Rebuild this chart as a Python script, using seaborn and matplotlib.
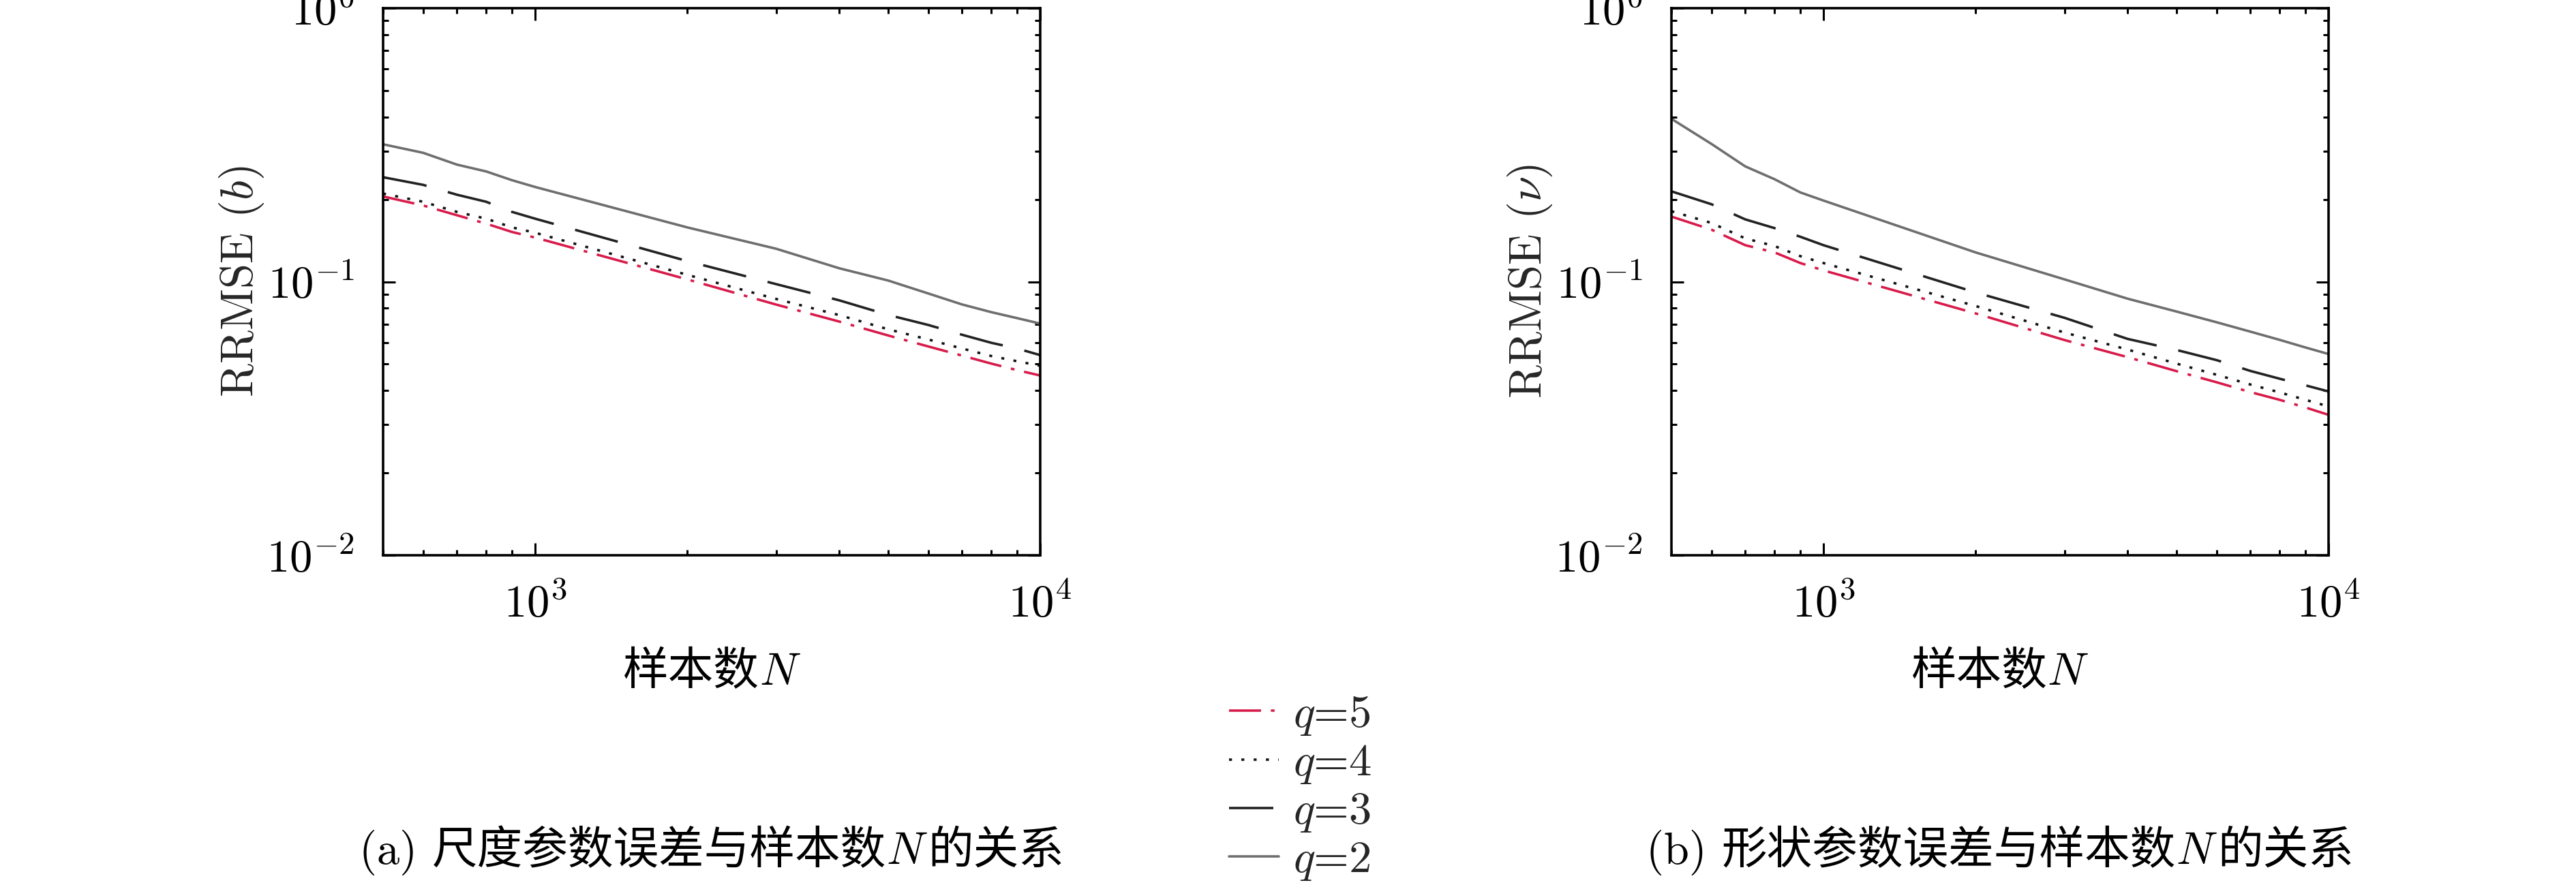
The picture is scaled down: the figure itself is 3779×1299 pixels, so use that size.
import matplotlib
matplotlib.use("Agg")
import matplotlib.pyplot as plt
import seaborn as sns
from matplotlib.ticker import LogLocator, NullFormatter
from matplotlib.offsetbox import TextArea, HPacker, AnchoredOffsetbox

# sample sizes
N = [500, 600, 700, 800, 900, 1000, 2000, 3000, 4000, 5000, 6000, 7000, 8000, 9000, 10000]

# (a) scale parameter b
b_q2 = [0.318, 0.296, 0.268, 0.253, 0.235, 0.222, 0.158, 0.132, 0.112, 0.101, 0.0906, 0.0826, 0.0774, 0.0736, 0.0703]
b_q3 = [0.241, 0.226, 0.208, 0.196, 0.180, 0.170, 0.119, 0.098, 0.0855, 0.0756, 0.0695, 0.0640, 0.0598, 0.0570, 0.0539]
b_q4 = [0.210, 0.196, 0.180, 0.170, 0.158, 0.151, 0.106, 0.0865, 0.0755, 0.0670, 0.0615, 0.0570, 0.0535, 0.0512, 0.0493]
b_q5 = [0.205, 0.190, 0.175, 0.163, 0.152, 0.145, 0.102, 0.0825, 0.0715, 0.0636, 0.0580, 0.0537, 0.0502, 0.0475, 0.0454]

# (b) shape parameter nu
nu_q2 = [0.394, 0.319, 0.264, 0.237, 0.212, 0.198, 0.128, 0.102, 0.0867, 0.0778, 0.0711, 0.0657, 0.0613, 0.0575, 0.0544]
nu_q3 = [0.214, 0.192, 0.169, 0.157, 0.146, 0.136, 0.0914, 0.0738, 0.0618, 0.0563, 0.0517, 0.0472, 0.0442, 0.0418, 0.0397]
nu_q4 = [0.181, 0.164, 0.144, 0.135, 0.124, 0.117, 0.0815, 0.0652, 0.0565, 0.0502, 0.0457, 0.0421, 0.0394, 0.0370, 0.0350]
nu_q5 = [0.173, 0.155, 0.136, 0.128, 0.117, 0.110, 0.0766, 0.0612, 0.0530, 0.0471, 0.0429, 0.0395, 0.0370, 0.0347, 0.0326]

q_labels = ["$q$=5", "$q$=4", "$q$=3", "$q$=2"]

sns.set_theme(style="ticks")
plt.rcParams["font.family"] = ["cmr10", "Noto Sans CJK SC"]
plt.rcParams["mathtext.fontset"] = "cm"
plt.rcParams["axes.formatter.use_mathtext"] = True
plt.rcParams["axes.unicode_minus"] = False

FS = 48
CJK = "Noto Sans CJK SC"
W, H = 3780, 1299
fig = plt.figure(figsize=(W / 100, H / 100), dpi=100)

styles = {
    "$q$=5": dict(color="#d81b4a", dashes=(13, 4, 1.5, 4)),
    "$q$=4": dict(color="#111111", dashes=(1.2, 3.8)),
    "$q$=3": dict(color="#222222", dashes=(18, 9)),
    "$q$=2": dict(color="#6e6e6e", dashes=()),
}


def mixed_text(parts, xy, transform, size):
    # parts: list of (text, is_cjk)
    kids = []
    for txt, cjk in parts:
        props = dict(fontsize=size, color="black")
        if cjk:
            props["family"] = CJK
        kids.append(TextArea(txt, textprops=props))
    pack = HPacker(children=kids, align="baseline", pad=0, sep=0)
    box = AnchoredOffsetbox(loc="center", child=pack, frameon=False, pad=0, borderpad=0,
                            bbox_to_anchor=xy, bbox_transform=transform)
    fig.add_artist(box)


def panel(rect, series, ylab):
    ax = fig.add_axes(rect)
    for lab in ["$q$=2", "$q$=3", "$q$=5", "$q$=4"]:
        st = styles[lab]
        sns.lineplot(x=N, y=series[lab], ax=ax, color=st["color"], lw=2.6, label=lab)
        if st["dashes"]:
            ax.lines[-1].set_dashes(st["dashes"])
    ax.set_xscale("log")
    ax.set_yscale("log")
    ax.set_xlim(500, 10000)
    ax.set_ylim(1e-2, 1e0)
    ax.xaxis.set_minor_locator(LogLocator(base=10, subs=range(2, 10), numticks=20))
    ax.yaxis.set_minor_locator(LogLocator(base=10, subs=range(2, 10), numticks=20))
    ax.xaxis.set_minor_formatter(NullFormatter())
    ax.yaxis.set_minor_formatter(NullFormatter())
    ax.tick_params(which="both", direction="in", top=True, right=True,
                   labelsize=FS, width=2.2, colors="black")
    ax.tick_params(axis="y", which="major", length=13, pad=30)
    ax.tick_params(axis="x", which="major", length=13, pad=30)
    ax.tick_params(which="minor", length=6)
    for s in ax.spines.values():
        s.set_linewidth(2.6)
        s.set_color("black")
    ax.set_xlabel("")
    ax.set_ylabel(ylab, fontsize=FS)
    ax.yaxis.set_label_coords(-0.215, 0.5)
    ax.yaxis.label.set_va("center")
    ax.get_legend().remove()
    ax.set_facecolor("white")
    mixed_text([("样本数", True), ("$N$", False)], (0.5, -0.213), ax.transAxes, FS)
    return ax


ax1 = panel([562 / W, 1 - 815 / H, 964 / W, 803 / H],
            {"$q$=2": b_q2, "$q$=3": b_q3, "$q$=4": b_q4, "$q$=5": b_q5}, "RRMSE ($b$)")
ax2 = panel([2452 / W, 1 - 815 / H, 964 / W, 803 / H],
            {"$q$=2": nu_q2, "$q$=3": nu_q3, "$q$=4": nu_q4, "$q$=5": nu_q5}, r"RRMSE ($\nu$)")

handles, labels = ax1.get_legend_handles_labels()
hmap = dict(zip(labels, handles))
fig.legend([hmap[l] for l in q_labels], q_labels, loc="center left",
           bbox_to_anchor=(1803 / W, 1 - 1157 / H), frameon=False, fontsize=FS,
           handlelength=1.1, handletextpad=0.31, labelspacing=0.14,
           borderpad=0, borderaxespad=0)

mixed_text([("(a) ", False), ("尺度参数误差与样本数", True), ("$N$", False), ("的关系", True)],
           (1044 / W, 1 - 1250 / H), fig.transFigure, FS)
mixed_text([("(b) ", False), ("形状参数误差与样本数", True), ("$N$", False), ("的关系", True)],
           (2934 / W, 1 - 1250 / H), fig.transFigure, FS)

fig.savefig("out.png", dpi=100, facecolor="white")
